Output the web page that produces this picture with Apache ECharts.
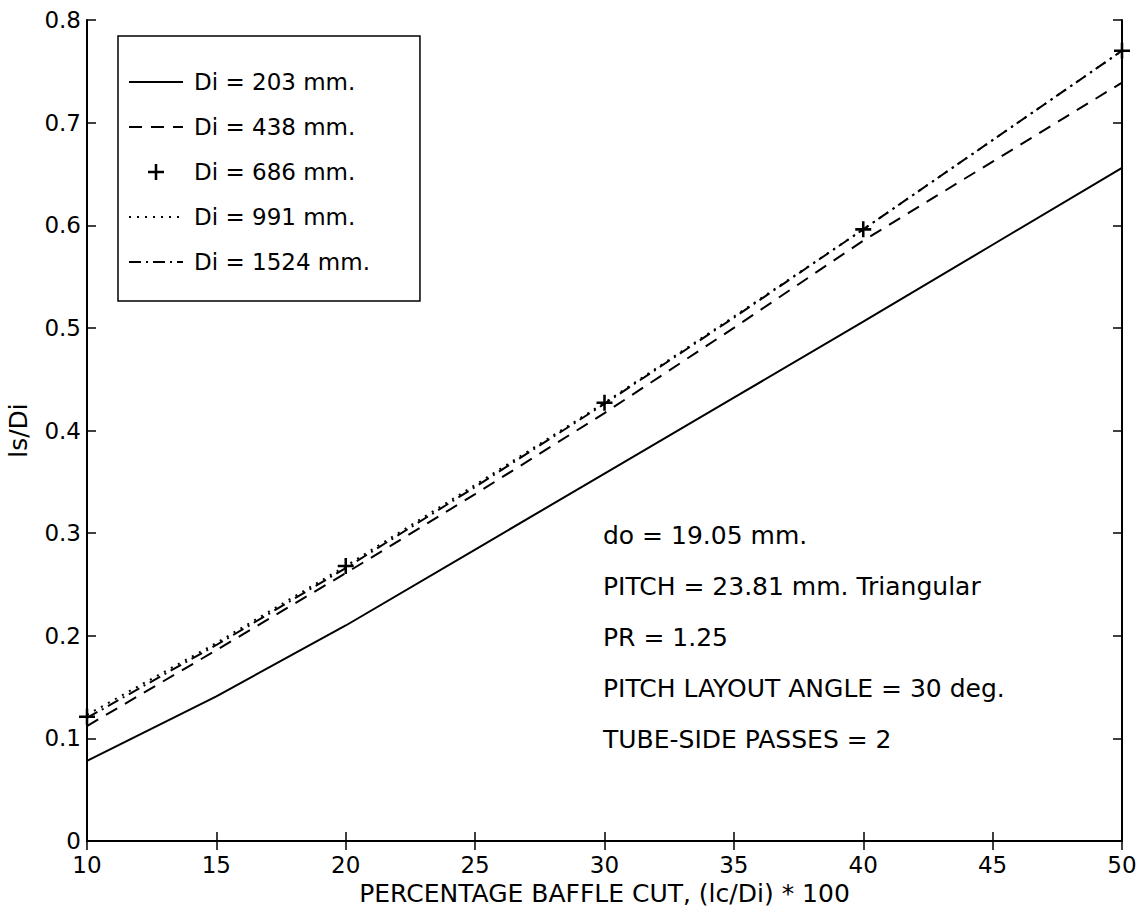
<!DOCTYPE html>
<html>
<head>
<meta charset="utf-8">
<script src="https://cdn.jsdelivr.net/npm/echarts@6/dist/echarts.min.js"></script>
<style>
html,body{margin:0;padding:0;background:#fff;}
#chart{width:1143px;height:916px;}
</style>
</head>
<body>
<div id="chart"></div>
<script>
// ---- data ----
const baffleCut = [10, 15, 20, 25, 30, 35, 40, 45, 50];
const di203  = [0.078, 0.141, 0.210, 0.284, 0.358, 0.432, 0.506, 0.581, 0.656];
const di438  = [0.112, 0.186, 0.261, 0.338, 0.417, 0.500, 0.585, 0.662, 0.739];
const cut686 = [10, 20, 30, 40, 50];
const di686  = [0.121, 0.268, 0.427, 0.596, 0.770];
const di991  = [0.123, 0.193, 0.268, 0.347, 0.427, 0.511, 0.596, 0.683, 0.770];
const di1524 = [0.120, 0.191, 0.266, 0.345, 0.426, 0.510, 0.596, 0.683, 0.770];
const seriesNames = ['Di = 203 mm.', 'Di = 438 mm.', 'Di = 686 mm.', 'Di = 991 mm.', 'Di = 1524 mm.'];
const annotationLines = ['do = 19.05 mm.', 'PITCH = 23.81 mm. Triangular', 'PR = 1.25',
  'PITCH LAYOUT ANGLE = 30 deg.', 'TUBE-SIDE PASSES = 2'];
const xAxisTitle = 'PERCENTAGE BAFFLE CUT, (lc/Di) * 100';
const yAxisTitle = 'ls/Di';

const pairs = (xs, ys) => xs.map((x, i) => [x, ys[i]]);
const FONT = 'DejaVu Sans';
const plusPath = 'path://M4.2,0H5.8V4.2H10V5.8H5.8V10H4.2V5.8H0V4.2H4.2Z';

const chart = echarts.init(document.getElementById('chart'), null, {renderer: 'svg'});
const axisCommon = {
  axisLine: {show: true, lineStyle: {color: '#000', width: 2}},
  axisTick: {show: true, inside: true, length: 9, lineStyle: {color: '#000', width: 1.5}},
  splitLine: {show: false}
};
const hideSymbol = {color: 'rgba(0,0,0,0)', borderWidth: 0, borderColor: 'rgba(0,0,0,0)'};
chart.setOption({
  backgroundColor: '#fff',
  animation: false,
  grid: {left: 87, right: 21, top: 20, bottom: 75, outerBoundsMode: 'none', containLabel: false},
  xAxis: [
    Object.assign({
      type: 'value', min: 10, max: 50, interval: 5, position: 'bottom',
      name: xAxisTitle, nameLocation: 'middle', nameGap: 33,
      nameTextStyle: {fontFamily: FONT, fontSize: 25, color: '#000'},
      axisLabel: {fontFamily: FONT, fontSize: 23, color: '#000', margin: 12}
    }, axisCommon),
    Object.assign({
      type: 'value', min: 10, max: 50, interval: 5, position: 'top',
      axisLabel: {show: false}
    }, axisCommon)
  ],
  yAxis: [
    Object.assign({
      type: 'value', min: 0, max: 0.8, interval: 0.1, position: 'left',
      name: yAxisTitle, nameLocation: 'middle', nameGap: 56,
      nameTextStyle: {fontFamily: FONT, fontSize: 25, color: '#000'},
      axisLabel: {fontFamily: FONT, fontSize: 23, color: '#000', margin: 6}
    }, axisCommon),
    Object.assign({
      type: 'value', min: 0, max: 0.8, interval: 0.1, position: 'right',
      axisLabel: {show: false}
    }, axisCommon)
  ],
  legend: {
    orient: 'vertical', left: 118, top: 36,
    padding: [34, 50, 27, 10],
    itemWidth: 54, itemHeight: 16, itemGap: 21,
    backgroundColor: '#fff', borderColor: '#000', borderWidth: 1.5, borderRadius: 0,
    textStyle: {fontFamily: FONT, fontSize: 23, color: '#000', lineHeight: 24, padding: [0, 0, 0, 6]},
    data: [
      {name: seriesNames[0], itemStyle: hideSymbol},
      {name: seriesNames[1], itemStyle: hideSymbol},
      {name: seriesNames[2], itemStyle: {color: '#000', opacity: 1}},
      {name: seriesNames[3], itemStyle: hideSymbol},
      {name: seriesNames[4], itemStyle: hideSymbol}
    ]
  },
  graphic: [{
    type: 'text', left: 603, top: 510,
    style: {text: annotationLines.join('\n'), font: '25px "DejaVu Sans"', fill: '#000', lineHeight: 51}
  }],
  series: [
    {name: seriesNames[0], type: 'line', symbol: 'none', data: pairs(baffleCut, di203),
     lineStyle: {color: '#000', width: 2, type: 'solid'}, itemStyle: {color: '#000'}},
    {name: seriesNames[1], type: 'line', symbol: 'none', data: pairs(baffleCut, di438),
     lineStyle: {color: '#000', width: 2, type: [13, 9]}, itemStyle: {color: '#000'}},
    {name: seriesNames[2], type: 'scatter', symbol: plusPath, symbolSize: 16, symbolKeepAspect: true,
     data: pairs(cut686, di686), itemStyle: {color: '#000', opacity: 1}},
    {name: seriesNames[3], type: 'line', symbol: 'none', data: pairs(baffleCut, di991),
     lineStyle: {color: '#000', width: 2, type: [2, 6]}, itemStyle: {color: '#000'}},
    {name: seriesNames[4], type: 'line', symbol: 'none', data: pairs(baffleCut, di1524),
     lineStyle: {color: '#000', width: 2, type: [12, 5, 2, 5]}, itemStyle: {color: '#000'}}
  ]
});
</script>
</body>
</html>
